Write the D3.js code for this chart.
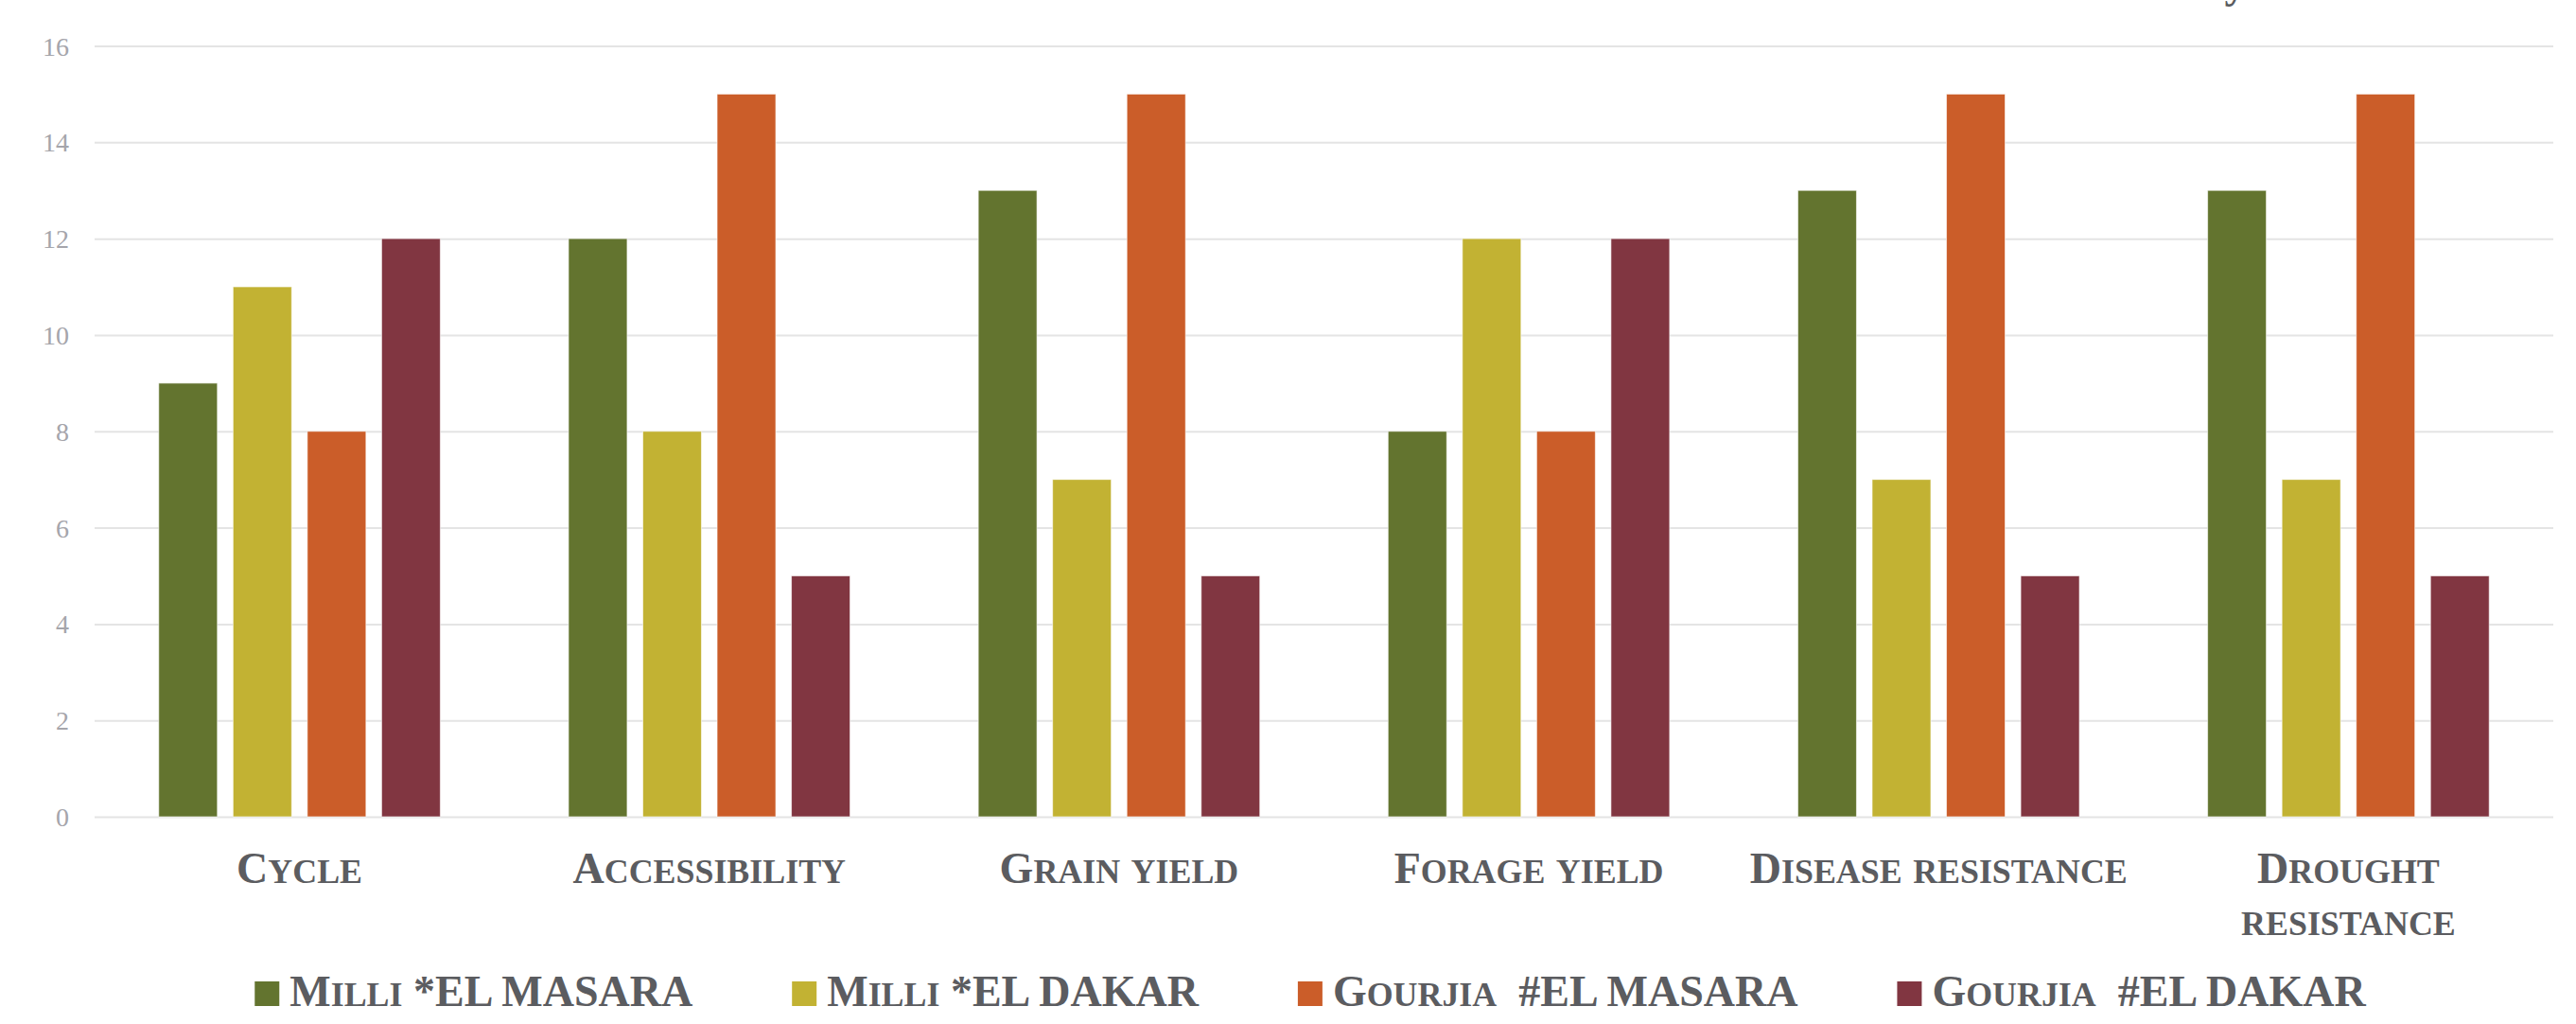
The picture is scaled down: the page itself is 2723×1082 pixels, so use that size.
<!DOCTYPE html>
<html>
<head>
<meta charset="utf-8">
<script src="https://cdn.jsdelivr.net/npm/d3@7"></script>
<style>
  body { margin: 0; background: #ffffff; }
  svg { display: block; }
  .y-axis .domain { display: none; }
  .y-axis line { stroke: #e4e4e4; stroke-width: 2; }
  .y-axis text { font-family: "Liberation Serif", serif; font-size: 28px; fill: #a5a5ab; }
  .cat-label, .legend-text, .title-text { font-family: "Liberation Serif", serif; font-weight: bold; fill: #5b5c60; white-space: pre; }
</style>
</head>
<body>
<div id="chart"></div>
<script>

// DATA
var categories = ["Cycle", "Accessibility", "Grain yield", "Forage yield", "Disease resistance", "Drought resistance"];
var seriesNames = ["Milli *EL MASARA", "Milli *EL DAKAR", "Gourjia  #EL MASARA", "Gourjia  #EL DAKAR"];
var milliMasara   = [9, 12, 13, 8, 13, 13];
var milliDakar    = [11, 8, 7, 12, 7, 7];
var gourjiaMasara = [8, 15, 15, 8, 15, 15];
var gourjiaDakar  = [12, 5, 5, 12, 5, 5];
var yTicks = [0, 2, 4, 6, 8, 10, 12, 14, 16];
var seriesColors = ["#63742f", "#c2b233", "#cb5d29", "#813641"];

var seriesValues = [milliMasara, milliDakar, gourjiaMasara, gourjiaDakar];

var width = 2723;
var height = 1082;
var plot = { left: 100, right: 2699, top: 48.5, bottom: 863 };
var labelSize = 46;
var smallRatio = 0.78;

var svg = d3.select("#chart")
  .append("svg")
  .attr("width", width)
  .attr("height", height);

// SCALES
var x0 = d3.scaleBand()
  .domain(categories)
  .range([plot.left, plot.right])
  .paddingInner(0.313)
  .paddingOuter(0.1565);

var x1 = d3.scaleBand()
  .domain(seriesNames)
  .range([0, x0.bandwidth()])
  .paddingInner(0.211);

var y = d3.scaleLinear()
  .domain([0, 16])
  .range([plot.bottom, plot.top]);

// fake small caps: capitals stay full size, lower case letters become smaller capitals
function smallCaps(textSel, str, size) {
  var runs = [];
  str.split("").forEach(function(ch) {
    var small = ch !== ch.toUpperCase();
    var last = runs[runs.length - 1];
    if (last && last.small == small) {
      last.text += ch.toUpperCase();
    } else {
      runs.push({ small: small, text: ch.toUpperCase() });
    }
  });
  runs.forEach(function(r) {
    textSel.append("tspan")
      .style("font-size", (r.small ? size * smallRatio : size) + "px")
      .text(r.text);
  });
}

// GRIDLINES + Y LABELS
svg.append("g")
  .attr("class", "y-axis")
  .attr("transform", "translate(" + plot.left + ",0)")
  .call(d3.axisLeft(y)
    .tickValues(yTicks)
    .tickSize(-(plot.right - plot.left))
    .tickPadding(27))
  .selectAll("text")
  .attr("dy", "0.34em");

// BARS
var rows = categories.map(function(c, i) {
  return { category: c, values: seriesNames.map(function(s, j) {
    return { series: s, value: seriesValues[j][i], color: seriesColors[j] };
  }) };
});

var groups = svg.selectAll(".group")
  .data(rows)
  .enter().append("g")
  .attr("class", "group")
  .attr("transform", function(d) { return "translate(" + x0(d.category) + ",0)"; });

groups.selectAll("rect")
  .data(function(d) { return d.values; })
  .enter().append("rect")
  .attr("x", function(d) { return x1(d.series); })
  .attr("y", function(d) { return y(d.value); })
  .attr("width", x1.bandwidth())
  .attr("height", function(d) { return y(0) - y(d.value); })
  .attr("fill", function(d) { return d.color; })
  .attr("stroke", "#ffffff")
  .attr("stroke-opacity", 0.6)
  .attr("stroke-width", 1);

// CATEGORY LABELS (wrap when wider than the band step)
var labelBaseline = 933;
var lineGap = 55;
categories.forEach(function(c) {
  var cx = x0(c) + x0.bandwidth() / 2;
  var t = svg.append("text")
    .attr("class", "cat-label")
    .attr("x", cx)
    .attr("y", labelBaseline)
    .attr("text-anchor", "middle");
  smallCaps(t, c, labelSize);
  if (t.node().getComputedTextLength() > x0.step() - 8) {
    t.remove();
    var words = c.split(" ");
    var lines = [words[0], words.slice(1).join(" ")];
    lines.forEach(function(line, k) {
      var lt = svg.append("text")
        .attr("class", "cat-label")
        .attr("x", cx)
        .attr("y", labelBaseline + k * lineGap)
        .attr("text-anchor", "middle");
      smallCaps(lt, line, labelSize);
    });
  }
});

// LEGEND
var legendBaseline = 1063;
var legendSquare = 26;
var legendGap = 105;
var legendCenter = 1385;

var legend = svg.append("g").attr("class", "legend");
var items = seriesNames.map(function(s, i) {
  var g = legend.append("g");
  g.append("rect")
    .attr("x", 0)
    .attr("y", legendBaseline - legendSquare)
    .attr("width", legendSquare)
    .attr("height", legendSquare)
    .attr("fill", seriesColors[i]);
  var t = g.append("text")
    .attr("class", "legend-text")
    .attr("x", legendSquare + 11)
    .attr("y", legendBaseline);
  smallCaps(t, s, labelSize);
  return { g: g, w: legendSquare + 11 + t.node().getComputedTextLength() };
});

var total = d3.sum(items, function(d) { return d.w; }) + legendGap * (items.length - 1);
var lx = legendCenter - total / 2;
items.forEach(function(it) {
  it.g.attr("transform", "translate(" + lx + ",0)");
  lx += it.w + legendGap;
});

// title sits above the picture, only the tail of its last letter shows
svg.append("text")
  .attr("class", "title-text")
  .attr("x", 2363)
  .attr("y", -3)
  .attr("text-anchor", "middle")
  .style("font-size", labelSize + "px")
  .text("y");

</script>
</body>
</html>
